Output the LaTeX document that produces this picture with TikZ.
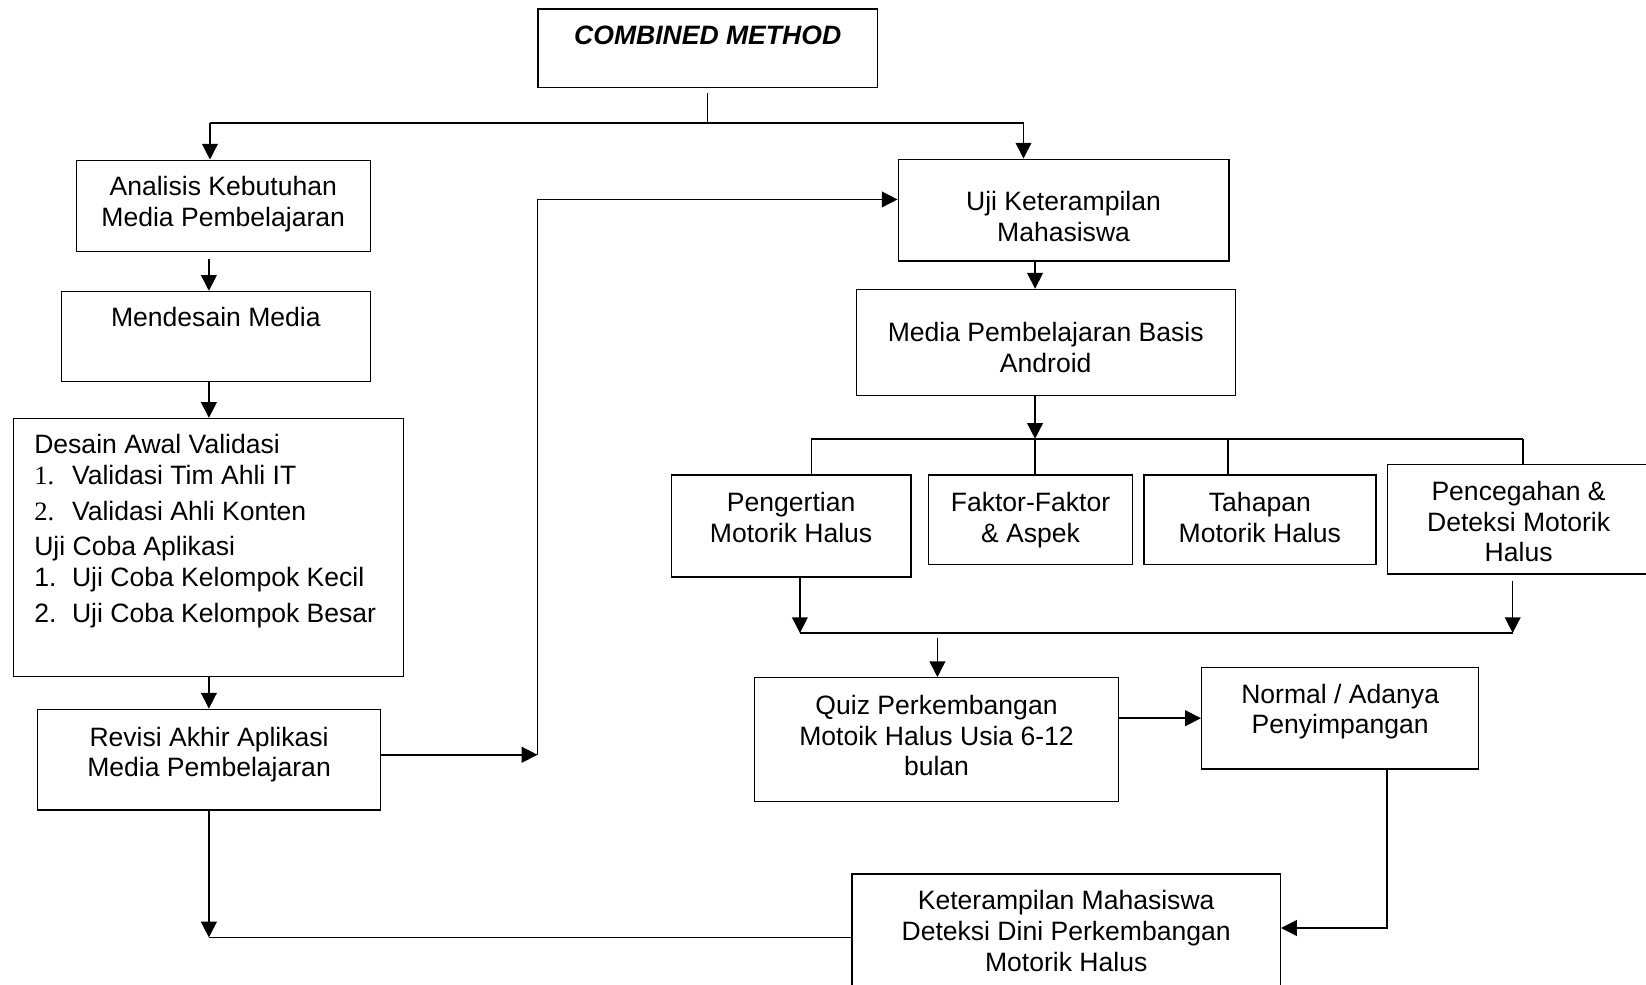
\documentclass[tikz,border=0pt]{standalone}
\usepackage{fontspec}
\setmainfont{Liberation Sans}
\newfontfamily\numserif{Liberation Serif}
\usetikzlibrary{arrows.meta}
\newcommand\bxc[4]{\parbox[c][#2][t]{#1}{\centering\vspace*{#3}\strut#4}}
\begin{document}
\begin{tikzpicture}[x=0.5pt,y=-0.5pt,
 box/.style={draw, line width=0.65pt, inner sep=0pt, anchor=north west, font=\fontsize{12.65pt}{14.6pt}\selectfont},
 ln/.style={line width=0.75pt},
 arr/.style={line width=0.75pt, -{Triangle[length=7.5pt,width=7.5pt]}}]
\useasboundingbox (0,0) rectangle (1568,938);
\clip (0,0) rectangle (1568,938);
\fill[white] (0,0) rectangle (1568,938);

% boxes
\node[box] (cm) at (512,8) {\bxc{161.5pt}{37.5pt}{6.8pt}{\bfseries\itshape COMBINED METHOD}};
\node[box] (analisis) at (72,152) {\bxc{140pt}{43.5pt}{6.8pt}{Analisis Kebutuhan\\Media Pembelajaran}};
\node[box] (mend) at (58,277) {\bxc{147pt}{43pt}{6.3pt}{Mendesain Media}};
\node[box] (desain) at (12,398) {\parbox[c][123pt][t]{186pt}{\raggedright\leftskip=10pt\vspace*{6.3pt}\strut Desain Awal Validasi\\[0.4pt]
{\numserif\makebox[18pt][l]{1.}}Validasi Tim Ahli IT\\[2.4pt]
{\numserif\makebox[18pt][l]{2.}}Validasi Ahli Konten\\[1.9pt]
Uji Coba Aplikasi\\[0.4pt]
\makebox[18pt][l]{1.}Uji Coba Kelompok Kecil\\[2.4pt]
\makebox[18pt][l]{2.}Uji Coba Kelompok Besar}};
\node[box] (revisi) at (35,675) {\bxc{163.5pt}{48pt}{7.3pt}{Revisi Akhir Aplikasi\\Media Pembelajaran}};
\node[box] (uji) at (855,151) {\bxc{157.5pt}{48.5pt}{14.3pt}{Uji Keterampilan\\Mahasiswa}};
\node[box] (media) at (815,275) {\bxc{180.5pt}{50.5pt}{14.8pt}{Media Pembelajaran Basis\\Android}};
\node[box] (peng) at (639,452) {\bxc{114pt}{48.5pt}{7.3pt}{Pengertian\\Motorik Halus}};
\node[box] (faktor) at (884,452) {\bxc{97pt}{42.5pt}{7.3pt}{Faktor-Faktor\\\& Aspek}};
\node[box] (tahap) at (1089,452) {\bxc{110.5pt}{42.5pt}{7.3pt}{Tahapan\\Motorik Halus}};
\node[box] (pence) at (1321,442) {\bxc{125pt}{52pt}{6.8pt}{Pencegahan \&\\Deteksi Motorik\\Halus}};
\node[box] (quiz) at (718,645) {\bxc{173.5pt}{59pt}{7.3pt}{Quiz Perkembangan\\Motoik Halus Usia 6-12\\bulan}};
\node[box] (normal) at (1144,635) {\bxc{132pt}{48.5pt}{6.8pt}{Normal / Adanya\\Penyimpangan}};
\node[box] (ketr) at (811,832) {\bxc{204pt}{56.5pt}{6.8pt}{Keterampilan Mahasiswa\\Deteksi Dini Perkembangan\\Motorik Halus}};

% junction coordinates
\coordinate (sL) at (200,117);
\coordinate (sR) at (975,117);
\coordinate (xL) at (199,0);
\coordinate (jB) at (199,893);
\coordinate (jM) at (512,719);
\coordinate (jT) at (512,190);
\coordinate (xM) at (986,0);
\coordinate (bL) at (773,418);
\coordinate (bR) at (1451,418);
\coordinate (bT) at (1170,418);
\coordinate (mL) at (762,603);
\coordinate (mR) at (1441,603);
\coordinate (mQ) at (893,608);
\coordinate (nK) at (1321,884);

% connectors
\draw[ln] ([yshift=-2pt]cm.south) -- (cm.south |- sL);
\draw[ln] (sL) -- (sR);
\draw[arr] (sL) -- (sL |- analisis.north);
\draw[arr] (sR) -- (sR |- uji.north);
\draw[arr] ([yshift=-3pt]analisis.south -| xL) -- (mend.north -| xL);
\draw[arr] (mend.south -| xL) -- (desain.north -| xL);
\draw[arr] (desain.south -| xL) -- (revisi.north -| xL);
\draw[arr] (revisi.south -| jB) -- (jB);
\draw[ln] (ketr.west |- jB) -- (jB);
\draw[arr] (revisi.east |- jM) -- (jM);
\draw[arr] (jM) -- (jT) -- (uji.west |- jT);
\draw[arr] (uji.south -| xM) -- (media.north -| xM);
\draw[arr] (media.south -| xM) -- (xM |- bL);
\draw[ln] (bL) -- (bR);
\draw[ln] (bL) -- (peng.north -| bL);
\draw[ln] (xM |- bL) -- (faktor.north -| xM);
\draw[ln] (bT) -- (tahap.north -| bT);
\draw[ln] (bR) -- (pence.north -| bR);
\draw[arr] (peng.south -| mL) -- (mL);
\draw[arr] ([yshift=-3pt]pence.south -| mR) -- (mR);
\draw[ln] (mL) -- (mR);
\draw[arr] (mQ) -- (quiz.north -| mQ);
\draw[arr] (quiz.east |- normal.west) -- (normal.west);
\draw[arr] (normal.south -| nK) -- (nK) -- (ketr.east |- nK);
\end{tikzpicture}
\end{document}
